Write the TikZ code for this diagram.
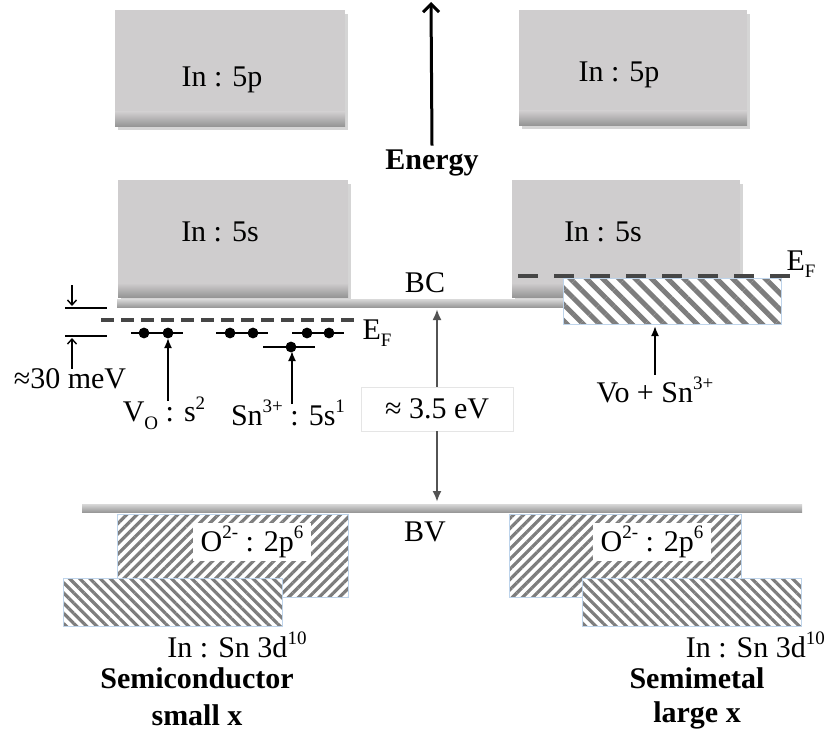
\documentclass[tikz,border=0pt]{standalone}
\usepackage{fontspec}
\setmainfont{Liberation Serif}
\usetikzlibrary{patterns.meta,arrows.meta}
\definecolor{boxgray}{RGB}{207,205,206}
\definecolor{boxdark}{RGB}{150,150,150}
\definecolor{hatchgray}{RGB}{125,125,125}
\definecolor{hatchedge}{RGB}{190,212,235}
\definecolor{dashgray}{RGB}{70,70,70}
\newcommand\myup[1]{\raisebox{0.42em}{\fontsize{19}{20}\selectfont #1}}
\newcommand\mydn[1]{\raisebox{-0.25em}{\fontsize{19}{20}\selectfont #1}}
\newcommand\grayband[4]{%
  \fill[gray!55, opacity=.6] (#1+3,#2+4) rectangle (#3+3,#4+4);
  \fill[boxgray] (#1,#2) rectangle (#3,#4);
  \shade[top color=boxgray, bottom color=boxdark] (#1,#4-14) rectangle (#3,#4);
}
\tikzset{
  txt/.style={font=\fontsize{30}{34}\selectfont, inner sep=0pt},
  btxt/.style={font=\fontsize{30}{34}\selectfont\bfseries, inner sep=0pt},
  hatchtop/.style={draw=hatchedge, line width=0.8pt, preaction={fill=white}, pattern={Lines[angle=-45,distance=11.5pt,line width=5pt]}, pattern color=hatchgray},
  hatchne/.style={draw=hatchedge, line width=0.8pt, preaction={fill=white}, pattern={Lines[angle=45,distance=7.2pt,line width=3.2pt]}, pattern color=hatchgray},
  hatchnw/.style={draw=hatchedge, line width=0.8pt, preaction={fill=white}, pattern={Lines[angle=-45,distance=7.2pt,line width=3.2pt]}, pattern color=hatchgray},
  lvl/.style={line width=1.6pt},
  ptr/.style={line width=1.8pt, -{Latex[length=10pt,width=8pt]}},
  thinptr/.style={line width=1.4pt, -{Straight Barb[length=5pt,width=9pt]}},
  efline/.style={dashgray, line width=4.5pt},
  gaparrow/.style={gray!65!black, line width=2.4pt, -{Latex[length=11pt,width=9pt]}},
}
\begin{document}
\begin{tikzpicture}[x=1pt,y=-1pt]
\useasboundingbox (0,0) rectangle (826,733);

% ---- gray bands
\grayband{115}{10}{345}{126}
\grayband{519}{10}{747}{125}
\grayband{118}{180}{348}{297}
\grayband{512}{180}{740}{297}
\node[txt] (p5l) at (222,80) {In : 5p};
\node[txt] (p5r) at (619,75) {In : 5p};
\node[txt] (s5l) at (220,232) {In : 5s};
\node[txt] (s5r) at (603,232) {In : 5s};

% ---- energy axis
\node[btxt] (energy) at (432,163) {Energy};
\coordinate (etip) at (431,2);
\draw[line width=3pt, -{Straight Barb[length=8pt,width=16pt]}] (energy.north) ++(0,-4) -- (etip);

% ---- BC / BV lines
\shade[top color=gray!30, bottom color=gray!80] (117,299) rectangle (563,307);
\shade[top color=gray!30, bottom color=gray!80] (82,504) rectangle (802,512);
\node[txt] (bc) at (425,283) {BC};
\node[txt] (bv) at (425,532) {BV};

% ---- gap
\node[txt, draw=gray!20, fill=white, minimum width=152pt, minimum height=44pt] (gap) at (437,409) {≈ 3.5 eV};
\coordinate (bctop) at (437,309);
\coordinate (bvbot) at (437,502);
\draw[gaparrow] (gap.north) -- (bctop);
\draw[gaparrow] (gap.south) -- (bvbot);

% ---- left: semiconductor levels
\coordinate (t1) at (65,308); \coordinate (t2) at (107,308);
\coordinate (u1) at (65,336); \coordinate (u2) at (107,336);
\draw[lvl] (t1) -- (t2);
\draw[lvl] (u1) -- (u2);
\coordinate (da) at (72,285); \coordinate (db) at (72,306);
\draw[thinptr] (da) -- (db);
\node[txt] (mev) at (70,379) {≈30 meV};
\coordinate (ub) at (72,338);
\draw[thinptr] (mev.north -| ub) -- (ub);

\coordinate (efl1) at (101,320); \coordinate (efl2) at (358,320);
\draw[efline, dash pattern=on 13pt off 7pt] (efl1) -- (efl2);
\node[txt] (efl) at (377,333) {E\mydn{F}};

\draw[lvl] (131,333) -- (183,333);
\draw[lvl] (216,333) -- (268,333);
\draw[lvl] (292,333) -- (344,333);
\draw[lvl] (263,347) -- (315,347);
\foreach \px/\py in {144/333,168/333,230/333,253/333,307/333,329/333,291/347}
  \fill (\px,\py) circle (5.4);

\node[txt] (vo) at (164,413) {V\mydn{O} : s\myup{2}};
\coordinate (vop) at (168,338);
\coordinate (vos) at (168,401);
\draw[ptr] (vos) -- (vop);
\node[txt] (sn) at (288,413) {Sn\myup{3+} : 5s\myup{1}};
\coordinate (snp) at (292,351);
\coordinate (sns) at (292,404);
\draw[ptr] (sns) -- (snp);

% ---- right: semimetal
\draw[hatchtop] (563,278) rectangle (781,324);
\coordinate (efr1) at (518,276); \coordinate (efr2) at (790,276);
\draw[efline, dash pattern=on 20pt off 16pt] (efr1) -- (efr2);
\node[txt] (efr) at (801,264) {E\mydn{F}};
\node[txt] (vosn) at (655,390) {Vo + Sn\myup{3+}};
\coordinate (vosnp) at (655,326);
\draw[ptr] (vosn.north) ++(0,-2) -- (vosnp);

% ---- valence bands
\draw[hatchne] (117,514) rectangle (348,597);
\draw[hatchnw] (63,578) rectangle (282,626);
\node[txt, fill=white, inner xsep=8pt, inner ysep=3pt] (o2l) at (252,542) {O\myup{2-} : 2p\myup{6}};
\draw[hatchne] (509,514) rectangle (741,597);
\draw[hatchnw] (582,578) rectangle (801,626);
\node[txt, fill=white, inner xsep=8pt, inner ysep=3pt] (o2r) at (652,542) {O\myup{2-} : 2p\myup{6}};

\node[txt] (snl) at (237,645) {In : Sn 3d\myup{10}};
\node[txt, anchor=east] (snr) at (825,645) {In : Sn 3d\myup{10}};

\node[btxt] (semic) at (197,678) {Semiconductor};
\node[btxt] (smallx) at (197,715) {small x};
\node[btxt] (semim) at (697,678) {Semimetal};
\node[btxt] (largex) at (697,715) {large x};
\end{tikzpicture}
\end{document}
